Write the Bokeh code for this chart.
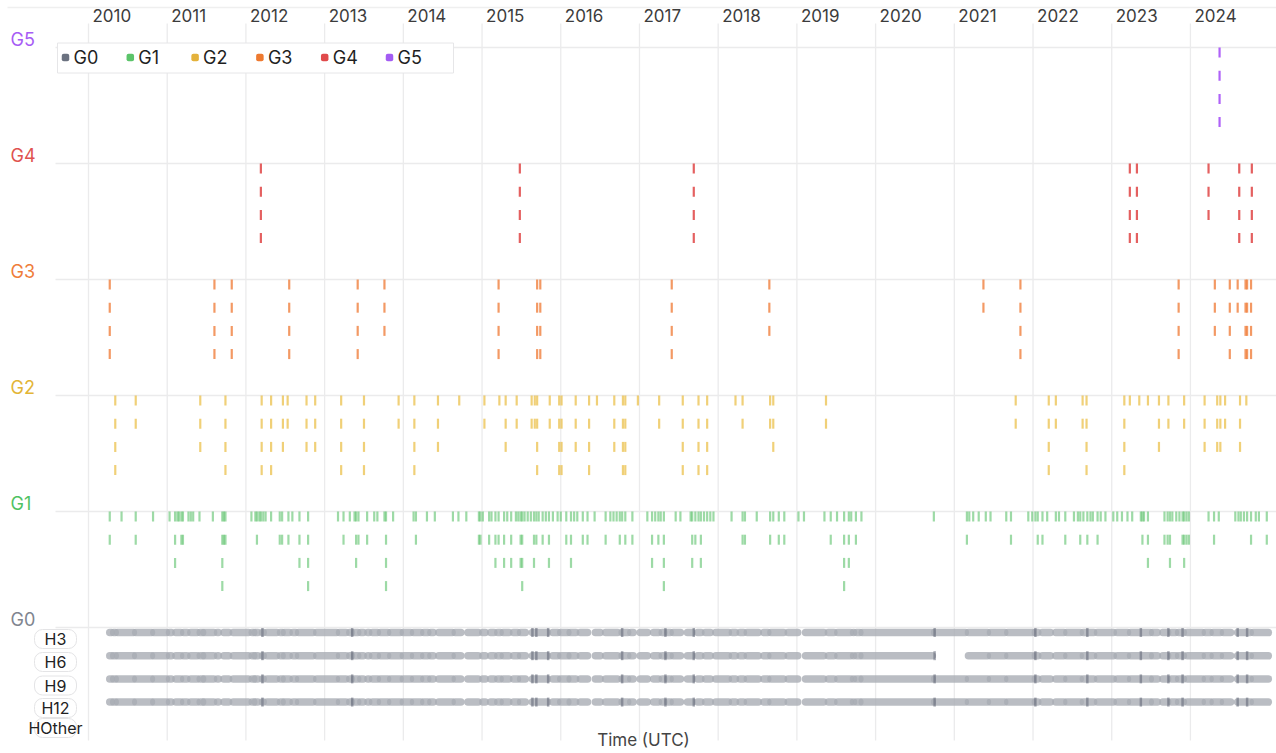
from bokeh.plotting import figure
from bokeh.models import Range1d
from bokeh.core.properties import value
from bokeh.embed import file_html
from bokeh.resources import INLINE

# ---------------- data ----------------
years = list(range(2010, 2025))
year_labels = [str(y) for y in years]
levels = ["G0", "G1", "G2", "G3", "G4", "G5"]
level_colors = ["#6b7280", "#5bc46a", "#e4b23b", "#ee7a30", "#e04a4b", "#a35cf3"]
label_colors = ["#80858f", "#4fc262", "#e3b536", "#ef7d39", "#e0524f", "#a75cf5"]
tick_colors = [None, "#4cbb5c", "#e6b325", "#f07c38", "#e04a4a", "#a855f7"]
tick_alpha = [None, 0.55, 0.62, 0.78, 0.88, 0.92]
hour_rows = ["H3", "H6", "H9", "H12", "HOther"]

# storm events: decimal-year date, number of duration rows reached (H3..H12)
g5_dates = [2024.37]
g5_rows = [4]

g4_dates = [2012.19, 2015.48, 2017.69, 2023.23, 2023.32, 2024.23, 2024.62, 2024.78]
g4_rows = [4, 4, 4, 4, 4, 3, 4, 4]

g3_dates = [2010.27, 2011.60, 2011.82, 2012.55, 2013.42, 2013.76, 2015.21, 2015.70,
            2015.74, 2017.41, 2018.65, 2021.37, 2021.84, 2023.85, 2024.31, 2024.50,
            2024.60, 2024.70, 2024.72, 2024.77]
g3_rows = [4, 4, 4, 4, 4, 3, 4, 4, 4, 4, 3, 2, 4, 4, 3, 4, 2, 4, 4, 4]

g2_dates = [2010.34, 2010.60, 2011.42, 2011.74, 2012.20, 2012.32, 2012.47, 2012.53,
            2012.77, 2012.88, 2013.21, 2013.50, 2013.94, 2014.14, 2014.44, 2014.71,
            2015.03, 2015.22, 2015.30, 2015.44, 2015.63, 2015.67, 2015.70, 2015.86,
            2015.98, 2016.01, 2016.19, 2016.36, 2016.46, 2016.68, 2016.79, 2016.82,
            2016.98, 2017.25, 2017.55, 2017.75, 2017.86, 2018.22, 2018.31, 2018.66,
            2018.70, 2019.37, 2021.78, 2022.20, 2022.29, 2022.63, 2022.68, 2023.16,
            2023.23, 2023.35, 2023.46, 2023.60, 2023.72, 2023.92, 2024.18, 2024.34,
            2024.38, 2024.44, 2024.63, 2024.71]
g2_rows = [4, 2, 3, 4, 4, 4, 3, 2,
           3, 3, 4, 4, 2, 4, 3, 1,
           2, 1, 3, 2, 2, 2, 4, 2,
           4, 4, 3, 4, 1, 3, 4, 4,
           1, 2, 4, 4, 4, 1, 2, 2,
           3, 2, 2, 4, 2, 2, 4, 4,
           1, 1, 1, 3, 2, 2, 3, 3,
           3, 2, 3, 1]

g1_dates = [2010.27, 2010.42, 2010.60, 2010.82, 2011.03, 2011.10, 2011.13, 2011.15,
            2011.18, 2011.20, 2011.27, 2011.30, 2011.33, 2011.41, 2011.58, 2011.70,
            2011.72, 2011.74, 2012.07, 2012.12, 2012.14, 2012.17, 2012.19, 2012.22,
            2012.25, 2012.32, 2012.43, 2012.46, 2012.54, 2012.59, 2012.68, 2012.79,
            2013.17, 2013.24, 2013.32, 2013.38, 2013.40, 2013.43, 2013.54, 2013.63,
            2013.67, 2013.76, 2013.78, 2013.87, 2014.13, 2014.16, 2014.30, 2014.40,
            2014.63, 2014.70, 2014.80, 2014.96, 2014.98, 2015.01, 2015.09, 2015.12,
            2015.17, 2015.21, 2015.28, 2015.32, 2015.37, 2015.43, 2015.46, 2015.49,
            2015.51, 2015.54, 2015.58, 2015.62, 2015.66, 2015.69, 2015.72, 2015.77,
            2015.81, 2015.85, 2015.90, 2015.96, 2016.00, 2016.07, 2016.13, 2016.17,
            2016.21, 2016.28, 2016.34, 2016.43, 2016.57, 2016.63, 2016.67, 2016.71,
            2016.75, 2016.78, 2016.82, 2016.91, 2017.10, 2017.16, 2017.20, 2017.24,
            2017.27, 2017.31, 2017.46, 2017.52, 2017.65, 2017.67, 2017.71, 2017.75,
            2017.78, 2017.82, 2017.86, 2017.90, 2017.94, 2018.17, 2018.31, 2018.34,
            2018.49, 2018.66, 2018.70, 2018.77, 2018.84, 2019.02, 2019.09, 2019.35,
            2019.43, 2019.51, 2019.60, 2019.66, 2019.69, 2019.75, 2019.82, 2020.74,
            2021.16, 2021.19, 2021.24, 2021.31, 2021.40, 2021.46, 2021.66, 2021.72,
            2021.94, 2021.99, 2022.03, 2022.06, 2022.12, 2022.18, 2022.29, 2022.33,
            2022.41, 2022.52, 2022.57, 2022.60, 2022.64, 2022.69, 2022.73, 2022.76,
            2022.82, 2022.86, 2022.92, 2023.02, 2023.07, 2023.13, 2023.20, 2023.26,
            2023.37, 2023.39, 2023.41, 2023.46, 2023.67, 2023.71, 2023.74, 2023.77,
            2023.82, 2023.86, 2023.90, 2023.92, 2023.95, 2023.98, 2024.23, 2024.30,
            2024.36, 2024.57, 2024.61, 2024.64, 2024.68, 2024.72, 2024.77, 2024.83,
            2024.87, 2024.97]
g1_rows = [2, 1, 2, 1, 1, 3, 1, 1,
           2, 2, 1, 1, 1, 1, 1, 4,
           2, 2, 1, 1, 2, 1, 1, 1,
           1, 1, 2, 2, 2, 1, 3, 4,
           1, 2, 1, 1, 3, 2, 2, 1,
           1, 1, 4, 1, 1, 2, 1, 1,
           1, 1, 1, 2, 2, 1, 2, 1,
           3, 2, 3, 1, 3, 1, 1, 3,
           4, 1, 1, 1, 3, 2, 1, 2,
           1, 3, 1, 1, 1, 2, 3, 1,
           1, 2, 2, 1, 2, 1, 1, 1,
           2, 1, 2, 2, 1, 3, 1, 2,
           1, 4, 1, 1, 1, 3, 2, 1,
           3, 1, 1, 1, 1, 1, 2, 2,
           1, 2, 1, 2, 2, 1, 1, 1,
           2, 1, 4, 3, 1, 2, 1, 1,
           2, 1, 1, 1, 1, 1, 1, 2,
           1, 1, 1, 2, 2, 1, 1, 1,
           2, 1, 1, 2, 1, 2, 1, 1,
           2, 1, 1, 1, 1, 1, 1, 1,
           1, 2, 1, 3, 2, 2, 3, 1,
           1, 1, 2, 3, 2, 2, 1, 2,
           1, 1, 1, 1, 1, 1, 2, 1,
           1, 2]

# quiet (G0) stretches: start / end in decimal years
g0_start = [2010.27, 2010.32, 2010.37, 2010.60, 2010.83, 2011.03, 2011.11, 2011.21,
            2011.30, 2011.42, 2011.47, 2011.64, 2011.72, 2011.84, 2012.08, 2012.12,
            2012.21, 2012.27, 2012.44, 2012.49, 2012.60, 2012.67, 2012.90, 2013.19,
            2013.32, 2013.38, 2013.46, 2013.55, 2013.61, 2013.71, 2013.84, 2014.00,
            2014.13, 2014.26, 2014.35, 2014.45, 2014.66, 2014.82, 2015.01, 2015.11,
            2015.20, 2015.27, 2015.40, 2015.49, 2015.64, 2015.90, 2016.00, 2016.12,
            2016.25, 2016.44, 2016.57, 2016.78, 2016.89, 2017.01, 2017.18, 2017.29,
            2017.36, 2017.43, 2017.61, 2017.74, 2017.84, 2017.97, 2018.18, 2018.28,
            2018.37, 2018.58, 2018.67, 2018.89, 2019.11, 2019.40, 2019.52, 2019.72,
            2019.76, 2019.83, 2020.75, 2021.18, 2021.46, 2021.68, 2022.03, 2022.12,
            2022.29, 2022.43, 2022.64, 2022.82, 2023.07, 2023.24, 2023.52, 2023.65,
            2023.76, 2023.85, 2023.96, 2024.19, 2024.29, 2024.42, 2024.60, 2024.80]
g0_end = [2010.29, 2010.34, 2010.57, 2010.80, 2010.99, 2011.05, 2011.17, 2011.25,
          2011.38, 2011.45, 2011.59, 2011.65, 2011.78, 2012.03, 2012.10, 2012.15,
          2012.22, 2012.39, 2012.46, 2012.55, 2012.63, 2012.85, 2013.15, 2013.27,
          2013.34, 2013.42, 2013.49, 2013.56, 2013.67, 2013.80, 2013.96, 2014.09,
          2014.22, 2014.31, 2014.38, 2014.62, 2014.73, 2014.95, 2015.04, 2015.15,
          2015.23, 2015.34, 2015.45, 2015.55, 2015.83, 2015.96, 2016.09, 2016.19,
          2016.34, 2016.50, 2016.72, 2016.85, 2016.92, 2017.10, 2017.24, 2017.31,
          2017.39, 2017.52, 2017.67, 2017.78, 2017.90, 2018.13, 2018.22, 2018.32,
          2018.51, 2018.63, 2018.83, 2019.01, 2019.34, 2019.47, 2019.68, 2019.72,
          2019.80, 2020.72, 2021.14, 2021.42, 2021.64, 2021.99, 2022.06, 2022.22,
          2022.39, 2022.60, 2022.77, 2023.02, 2023.20, 2023.49, 2023.58, 2023.71,
          2023.81, 2023.91, 2024.15, 2024.25, 2024.38, 2024.51, 2024.76, 2024.99]
# quiet stretch missing from the H6 row
h6_missing = [(2020.75, 2021.14)]
# short, densely packed quiet stretches (drawn darker)
g0_dense = [2012.21, 2013.35, 2015.64, 2015.69, 2015.84, 2016.78, 2017.33, 2017.69,
            2020.75, 2022.03, 2022.69, 2023.37, 2023.72, 2023.90, 2024.60, 2024.72]

# ---------------- layout helpers ----------------
PPX = 78.71   # pixels per year
PPY = 116.0   # pixels per G level
ROW_STEP = 0.2
ROW_OFF = 0.043
FONT = value("Inter")
W, H = 1276, 753


def dx(px):
    return 2010 + (px - 88) / PPX


def dy(py):
    return (627 - py) / PPY


p = figure(width=W, height=H,
           x_range=Range1d(dx(0), dx(W)), y_range=Range1d(dy(H), dy(0)),
           output_backend="svg", toolbar_location=None, min_border=0,
           x_axis_location=None, y_axis_location=None)
p.grid.visible = False
p.outline_line_color = None
p.background_fill_color = "white"
p.border_fill_color = "white"

GRID = "#ebebec"
# top rule
p.segment(x0=dx(7), x1=dx(W), y0=dy(7), y1=dy(7), line_color="#efefef", line_width=1.3)
# vertical year grid lines
p.segment(x0=years, x1=years, y0=dy(740), y1=dy(23), line_color=GRID, line_width=1.3)
# horizontal level grid lines
p.segment(x0=dx(55), x1=dx(W), y0=list(range(6)), y1=list(range(6)),
          line_color=GRID, line_width=1.3)

# ---- G0 quiet stretches ----
for j in range(4):
    xs0, xs1 = [], []
    for s, e in zip(g0_start, g0_end):
        if j == 1 and any(abs(s - a) < 1e-6 and abs(e - b) < 1e-6 for a, b in h6_missing):
            continue
        xs0.append(s)
        xs1.append(e)
    yy = -ROW_OFF - ROW_STEP * j
    p.segment(x0=xs0, x1=xs1, y0=yy, y1=yy, line_width=7.5, line_cap="round",
              line_color="#a9acb4", line_alpha=0.8)
    p.rect(x=g0_dense, y=yy, width=2.5, height=9, width_units="screen",
           height_units="screen", fill_color="#5d6372", fill_alpha=0.55, line_color=None)

# ---- storm ticks ----
events = {1: (g1_dates, g1_rows), 2: (g2_dates, g2_rows), 3: (g3_dates, g3_rows),
          4: (g4_dates, g4_rows), 5: (g5_dates, g5_rows)}
for lvl, (dates, rows) in events.items():
    xs, ys = [], []
    for d, n in zip(dates, rows):
        for j in range(n):
            xs.append(d)
            ys.append(lvl - ROW_OFF - ROW_STEP * j)
    p.rect(x=xs, y=ys, width=2.2, height=10, width_units="screen", height_units="screen",
           fill_color=tick_colors[lvl], fill_alpha=tick_alpha[lvl], line_color=None)

# ---- year labels (top) ----
p.text(x=[y + 4 / PPX for y in years], y=dy(15), text=year_labels,
       text_font=FONT, text_font_size="17px", text_color="#3c3c3c",
       text_align="left", text_baseline="middle")

# ---- level labels ----
p.text(x=dx(10), y=[k + 8 / PPY for k in range(6)], text=levels, text_color=label_colors,
       text_font=FONT, text_font_size="18px", text_align="left", text_baseline="middle")

# ---- hour row labels ----
h_py = [638.5, 661.5, 685, 707.5, 727.5]
p.rect(x=dx(55), y=[dy(v) for v in h_py], width=42, height=19,
       width_units="screen", height_units="screen", fill_color="white",
       line_color="#e4e4e6", line_width=1, border_radius=8)
p.text(x=dx(55), y=[dy(v) for v in h_py], text=hour_rows, text_font=FONT,
       text_font_size="16px", text_color="#222222", text_align="center",
       text_baseline="middle")

# ---- legend ----
p.quad(left=dx(57), right=dx(453), top=dy(42.5), bottom=dy(72.5),
       fill_color="white", line_color="#e6e6e8", line_width=1)
p.rect(x=[dx(65 + 64.8 * i) for i in range(6)], y=dy(57), width=7.5, height=7.5,
       width_units="screen", height_units="screen", fill_color=level_colors,
       line_color=None, border_radius=2)
p.text(x=[dx(73 + 64.8 * i) for i in range(6)], y=dy(57), text=levels,
       text_font=FONT, text_font_size="18px", text_color="#1f1f1f",
       text_align="left", text_baseline="middle")

# ---- axis title ----
p.text(x=dx(643), y=dy(739), text=["Time (UTC)"], text_font=FONT,
       text_font_size="17px", text_color="#444444", text_align="center",
       text_baseline="middle")

open("out.html", "w").write(file_html(p, INLINE))
